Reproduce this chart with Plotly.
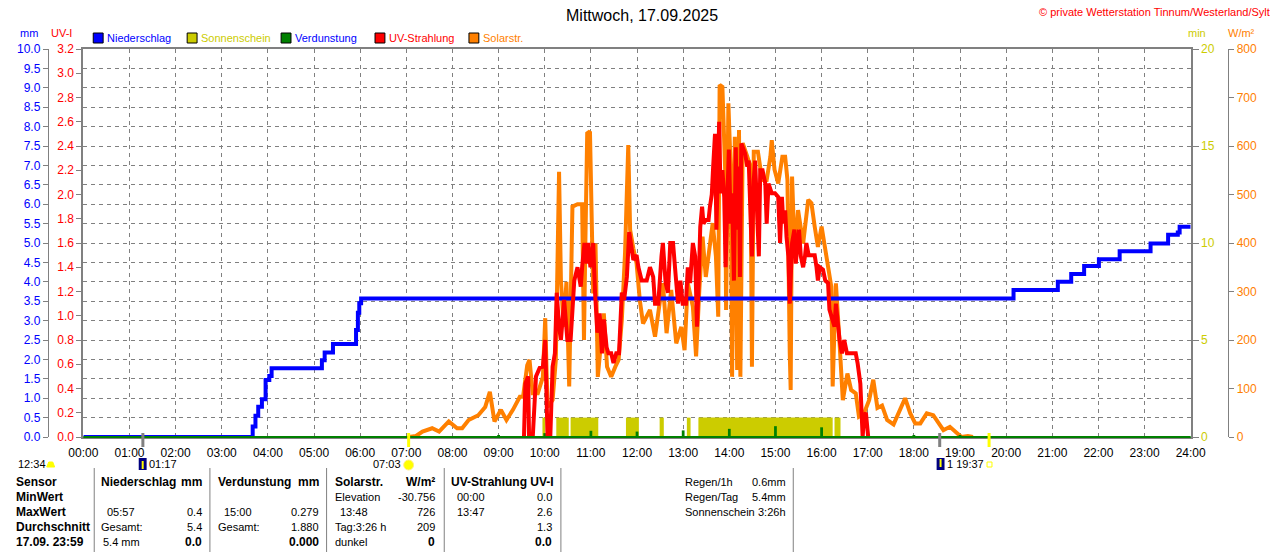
import plotly.graph_objects as go

FONT = "Liberation Sans"
BLUE = "#0000FF"
RED = "#FF0000"
ORANGE = "#FF8000"
YELLOW = "#CCCC00"
GREEN = "#008000"
GRAY = "#808080"

# x axis: hours of the day
hours = list(range(25))
hour_labels = [f"{h:02d}:00" for h in hours]

# Niederschlag, cumulative mm (step series, value holds until next time)
rain_t = [0, 3.67, 3.73, 3.79, 3.87, 3.95, 4.03, 4.08, 5.17, 5.23, 5.41, 5.91, 5.95,
          5.98, 6.02, 20.16, 21.12, 21.41, 21.69, 22.01, 22.46, 23.13, 23.51, 23.72,
          23.76, 24.0]
rain_mm = [0, 0.27, 0.55, 0.78, 0.97, 1.47, 1.57, 1.77, 1.98, 2.18, 2.40, 2.76, 3.20,
           3.45, 3.57, 3.79, 4.00, 4.20, 4.41, 4.58, 4.79, 4.99, 5.21, 5.27, 5.42, 5.42]

# Sonnenschein intervals (hours) and minutes of sun per minute
sun_start = [9.95, 10.25, 10.56, 11.76, 12.49, 13.08, 13.33, 16.28]
sun_end = [10.01, 10.52, 11.16, 12.04, 12.58, 13.16, 16.24, 16.41]
sun_min = [1, 1, 1, 1, 1, 1, 1, 1]

# Verdunstung per hour (mm)
evap_t = [1, 2, 3, 4, 5, 6, 7, 8, 9, 10, 11, 12, 13, 14, 15, 16, 17, 18, 19, 20, 21, 22, 23]
evap_mm = [0.02, 0.01, 0.02, 0.02, 0.01, 0.02, 0.01, 0.02, 0.04, 0.10, 0.16, 0.14, 0.17,
           0.21, 0.279, 0.25, 0.14, 0.05, 0.03, 0.02, 0.02, 0.02, 0.01]

# Solarstrahlung W/m2
sol_t = [7.05, 7.21, 7.35, 7.56, 7.71, 7.92, 8.10, 8.21, 8.35, 8.56, 8.71, 8.81, 8.91,
         9.05, 9.17, 9.31, 9.46, 9.53, 9.62, 9.67, 9.74, 9.85, 9.96, 10.01, 10.06, 10.17,
         10.24, 10.31, 10.35, 10.41, 10.47, 10.53, 10.60, 10.71, 10.81, 10.85, 10.88,
         10.92, 10.98, 11.01, 11.05, 11.10, 11.15, 11.21, 11.28, 11.35, 11.44, 11.53,
         11.60, 11.67, 11.74, 11.81, 11.85, 11.92, 11.99, 12.06, 12.13, 12.28, 12.39,
         12.49, 12.56, 12.64, 12.74, 12.85, 12.96, 13.03, 13.10, 13.21, 13.28, 13.35,
         13.42, 13.49, 13.56, 13.64, 13.71, 13.76, 13.79, 13.85, 13.91, 13.93, 13.98,
         14.03, 14.06, 14.12, 14.17, 14.21, 14.24, 14.29, 14.39, 14.46, 14.49, 14.53,
         14.62, 14.71, 14.81, 14.89, 14.92, 14.98, 15.06, 15.15, 15.21, 15.26, 15.31,
         15.33, 15.36, 15.42, 15.49, 15.60, 15.71, 15.78, 15.85, 15.92, 16.00, 16.06,
         16.14, 16.21, 16.24, 16.31, 16.39, 16.46, 16.56, 16.64, 16.74, 16.81, 16.92,
         17.03, 17.12, 17.21, 17.31, 17.42, 17.56, 17.71, 17.81, 17.92, 18.03, 18.14,
         18.28, 18.42, 18.53, 18.64, 18.78, 18.92, 19.03, 19.17, 19.28]
sol_w = [0, 2, 11, 18, 11, 32, 18, 18, 35, 45, 62, 93, 32,
         56, 35, 56, 83, 83, 148, 159, 90, 90, 124, 245, 62, 76,
         159, 547, 324, 227, 320, 104, 475, 480, 480, 200, 399,
         626, 630, 489, 296, 399, 124, 186, 255, 145, 124, 145,
         159, 241, 379, 602, 427, 389, 358, 282, 234, 262, 207,
         276, 317, 214, 303, 193, 227, 179, 317, 269, 166, 303,
         413, 330, 386, 441, 372, 248, 726, 722, 551, 262, 688,
         551, 124, 619, 138, 633, 124, 606, 578, 557, 145, 588,
         588, 530, 530, 578, 612, 551, 523, 578, 578, 530, 173,
         97, 537, 372, 468, 399, 489, 482, 434, 392, 434, 399,
         344, 310, 104, 317, 193, 76, 131, 97, 90, 42, 49,
         76, 118, 60, 65, 35, 26, 56, 80, 49, 28, 28,
         49, 45, 28, 14, 21, 8, 0, 2, 0]

# UV-Strahlung UV-I
uv_t = [9.55, 9.58, 9.64, 9.66, 9.74, 9.81, 9.89, 9.96, 10.01, 10.06, 10.12, 10.17,
        10.22, 10.26, 10.31, 10.35, 10.42, 10.49, 10.56, 10.60, 10.64, 10.71, 10.78,
        10.81, 10.86, 10.91, 10.94, 10.99, 11.05, 11.09, 11.14, 11.19, 11.24, 11.28,
        11.34, 11.38, 11.44, 11.49, 11.55, 11.61, 11.64, 11.67, 11.72, 11.78, 11.83,
        11.89, 11.92, 11.99, 12.03, 12.10, 12.21, 12.28, 12.35, 12.39, 12.46, 12.53,
        12.56, 12.62, 12.67, 12.72, 12.78, 12.84, 12.89, 12.94, 12.99, 13.06, 13.10,
        13.15, 13.21, 13.26, 13.30, 13.34, 13.37, 13.41, 13.44, 13.49, 13.55, 13.58,
        13.62, 13.65, 13.69, 13.72, 13.75, 13.78, 13.81, 13.85, 13.89, 13.92, 13.96,
        13.99, 14.03, 14.06, 14.10, 14.14, 14.17, 14.21, 14.23, 14.26, 14.34, 14.39,
        14.42, 14.46, 14.49, 14.53, 14.56, 14.60, 14.64, 14.67, 14.72, 14.78, 14.81,
        14.85, 14.89, 14.92, 14.99, 15.06, 15.10, 15.14, 15.17, 15.21, 15.24, 15.28,
        15.31, 15.34, 15.36, 15.41, 15.44, 15.48, 15.51, 15.55, 15.60, 15.64, 15.67,
        15.72, 15.85, 15.89, 15.92, 15.96, 16.03, 16.08, 16.14, 16.17, 16.21, 16.28,
        16.31, 16.35, 16.39, 16.44, 16.49, 16.55, 16.74, 16.78, 16.84, 16.89, 16.92,
        16.96, 17.01]
uv_i = [0, 0.44, 0.50, 0, 0, 0.50, 0.57, 0.58, 0.80, 0, 0, 0.58,
        0.69, 1.19, 0.91, 0.80, 1.13, 0.80, 0.80, 1.07, 1.29, 1.40, 1.24,
        1.40, 1.60, 1.43, 1.60, 1.40, 1.60, 1.19, 0.86, 1.02, 0.69, 0.97,
        0.74, 0.69, 0.69, 0.61, 0.69, 0.69, 0.97, 1.19, 1.13, 1.32, 1.69,
        1.54, 1.46, 1.50, 1.40, 1.29, 1.29, 1.40, 1.32, 1.10, 1.10, 1.49,
        1.60, 1.27, 1.19, 1.60, 1.60, 1.32, 1.10, 1.29, 1.10, 1.10, 1.40,
        1.27, 1.60, 1.49, 0.91, 1.32, 1.73, 1.90, 1.76, 1.79, 1.79, 1.90,
        2.00, 2.23, 2.50, 1.71, 2.23, 2.60, 2.01, 2.20, 1.98, 1.40, 2.01,
        2.37, 1.76, 2.01, 1.29, 2.39, 1.71, 2.23, 1.32, 2.42, 2.34, 2.23,
        2.28, 1.93, 1.49, 2.12, 2.28, 1.87, 1.49, 2.20, 2.20, 2.09, 1.76,
        2.09, 2.04, 2.01, 2.01, 1.98, 1.60, 1.98, 1.76, 1.87, 1.65, 1.49,
        1.10, 1.38, 1.60, 1.71, 1.43, 1.60, 1.71, 1.49, 1.40, 1.49, 1.60,
        1.50, 1.50, 1.40, 1.29, 1.40, 1.38, 1.29, 1.27, 1.05, 0.99, 0.91,
        1.10, 0.94, 0.80, 0.69, 0.80, 0.69, 0.69, 0.61, 0.44, 0, 0.17,
        0.20, 0]

# sun / moon events on the time axis
evt_t = [1.29, 7.05, 18.56, 19.63]
evt_color = [GRAY, "#FFFF00", GRAY, "#FFFF00"]

# page geometry (pixels)
W, H = 1280, 552
ML, MR, MT, MB = 20, 20, 49, 115


def px(x):
    return (x - ML) / (W - ML - MR)


def py(y):
    return (H - MB - y) / (H - MT - MB)


fig = go.Figure()

fig.add_trace(go.Bar(
    x=[(a + b) / 2 for a, b in zip(sun_start, sun_end)],
    y=sun_min,
    width=[b - a for a, b in zip(sun_start, sun_end)],
    marker=dict(color=YELLOW, line=dict(width=0)),
    yaxis="y", name="Sonnenschein",
))
fig.add_trace(go.Scatter(
    x=sol_t, y=sol_w, mode="lines", line=dict(color=ORANGE, width=4),
    yaxis="y2", name="Solarstr.",
))
fig.add_trace(go.Bar(
    x=evap_t, y=evap_mm, width=0.06, marker=dict(color=GREEN, line=dict(width=0)),
    yaxis="y3", name="Verdunstung",
))
fig.add_trace(go.Scatter(
    x=rain_t, y=rain_mm, mode="lines", line=dict(color=BLUE, width=4, shape="hv"),
    yaxis="y3", name="Niederschlag",
))
fig.add_trace(go.Scatter(
    x=uv_t, y=uv_i, mode="lines", line=dict(color=RED, width=4),
    yaxis="y4", name="UV-Strahlung",
))

fig.update_layout(
    width=W, height=H,
    margin=dict(l=ML, r=MR, t=MT, b=MB, pad=0),
    paper_bgcolor="white", plot_bgcolor="white",
    showlegend=False, barmode="overlay",
    font=dict(family=FONT, size=11, color="black"),
    xaxis=dict(
        domain=[px(77), px(1197)], range=[0, 24],
        tickvals=hours, ticktext=hour_labels, ticks="", ticklabelstandoff=4,
        tickfont=dict(family=FONT, size=12, color="black"),
        showgrid=True, gridcolor=GRAY, gridwidth=1, griddash="4px,4px",
        showline=True, linecolor=GRAY, linewidth=2, mirror=True, zeroline=False,
    ),
    yaxis=dict(
        range=[0, 20], side="right", anchor="x",
        tickvals=[0, 5, 10, 15, 20], ticks="outside", ticklen=6, tickcolor=GRAY,
        tickfont=dict(family=FONT, size=12, color=YELLOW),
        showgrid=False, zeroline=False, showline=True, linecolor=GRAY, linewidth=2,
    ),
    yaxis2=dict(
        range=[0, 800], overlaying="y", side="right", anchor="free", position=px(1235),
        dtick=100, ticks="outside", ticklen=5, tickcolor=GRAY,
        tickfont=dict(family=FONT, size=12, color=ORANGE),
        showgrid=False, zeroline=False, showline=True, linecolor=GRAY, linewidth=1,
    ),
    yaxis3=dict(
        range=[0, 10], overlaying="y", side="left", anchor="free", position=px(41),
        dtick=0.5, tickformat=".1f", ticks="outside", ticklen=5, tickcolor=GRAY,
        tickfont=dict(family=FONT, size=12, color=BLUE),
        showgrid=True, gridcolor=GRAY, gridwidth=1, griddash="4px,4px",
        zeroline=False, showline=True, linecolor=GRAY, linewidth=1,
    ),
    yaxis4=dict(
        range=[0, 3.2], overlaying="y", side="left", anchor="x",
        dtick=0.2, tickformat=".1f", ticks="outside", ticklen=5, tickcolor=GRAY,
        tickfont=dict(family=FONT, size=12, color=RED),
        showgrid=False, zeroline=False, showline=True, linecolor=GRAY, linewidth=2,
    ),
)

ann = []
shapes = []


def txt(x, y, s, color="black", size=11, anchor="left", bold=False):
    ann.append(dict(
        x=px(x), y=py(y), xref="paper", yref="paper",
        text=f"<b>{s}</b>" if bold else s, showarrow=False,
        xanchor=anchor, yanchor="middle",
        font=dict(family=FONT, size=size, color=color),
    ))


# title and copyright
txt(642, 15, "Mittwoch, 17.09.2025", size=16, anchor="center")
txt(1279, 12, "© private Wetterstation Tinnum/Westerland/Sylt", color=RED, size=11, anchor="right")

# axis unit labels
txt(22, 33, "mm", color=BLUE, anchor="center")
txt(55, 33, "UV-I", color=RED, anchor="center")
txt(1203, 33, "min", color=YELLOW, anchor="center")
txt(1248, 33, "W/m²", color=ORANGE, anchor="center")

# legend
legend_items = [("Niederschlag", BLUE, BLUE), ("Sonnenschein", YELLOW, YELLOW),
                ("Verdunstung", GREEN, BLUE), ("UV-Strahlung", RED, RED),
                ("Solarstr.", ORANGE, ORANGE)]
for i, (name, box, col) in enumerate(legend_items):
    x0 = 87 + 95 * i
    shapes.append(dict(type="rect", xref="paper", yref="paper",
                       x0=px(x0), x1=px(x0 + 10), y0=py(43), y1=py(33),
                       fillcolor=box, line=dict(color="black", width=1)))
    txt(x0 + 12, 38, name, color=col, size=11)

# green Verdunstung baseline over the bottom axis line
shapes.append(dict(type="line", xref="paper", yref="paper", x0=px(77), x1=px(1197),
                   y0=py(437), y1=py(437), line=dict(color=GREEN, width=2)))

# event ticks on the time axis
for t, c in zip(evt_t, evt_color):
    shapes.append(dict(type="line", xref="x", yref="paper", x0=t, x1=t,
                       y0=py(447), y1=py(433), line=dict(color=c, width=3)))

# event labels below the time axis
txt(9, 464, "12:34")
shapes.append(dict(type="path", xref="paper", yref="paper",
                   path=f"M {px(40)},{py(467)} L {px(42)},{py(462)} L {px(46)},{py(462)} L {px(48)},{py(467)} Z",
                   fillcolor="#FFFF00", line=dict(color="#FFFF00", width=1)))
shapes.append(dict(type="rect", xref="paper", yref="paper", x0=px(133), x1=px(141),
                   y0=py(470), y1=py(458), fillcolor="#000080", line=dict(width=0)))
shapes.append(dict(type="line", xref="paper", yref="paper", x0=px(137), x1=px(137),
                   y0=py(469), y1=py(461), line=dict(color="#FFFF00", width=2)))
txt(141, 464, "01:17")
txt(400, 464, "07:03", anchor="right")
shapes.append(dict(type="circle", xref="paper", yref="paper", x0=px(401), x1=px(411),
                   y0=py(470), y1=py(460), fillcolor="#FFFF00", line=dict(color="#FFF080", width=1)))
shapes.append(dict(type="rect", xref="paper", yref="paper", x0=px(940), x1=px(948),
                   y0=py(470), y1=py(458), fillcolor="#000080", line=dict(width=0)))
shapes.append(dict(type="line", xref="paper", yref="paper", x0=px(944), x1=px(944),
                   y0=py(467), y1=py(459), line=dict(color="#FFFF00", width=2)))
txt(948, 464, "1 19:37")
shapes.append(dict(type="rect", xref="paper", yref="paper", x0=px(991), x1=px(996),
                   y0=py(467), y1=py(462), fillcolor="white", line=dict(color="#FFFF00", width=1)))

# table
for xl in [88, 205, 323, 442, 560, 795]:
    shapes.append(dict(type="line", xref="paper", yref="paper", x0=px(xl), x1=px(xl),
                       y0=py(468), y1=py(552), line=dict(color=GRAY, width=1)))

rows = [482, 497, 512, 527, 542]
for y, s in zip(rows, ["Sensor", "MinWert", "MaxWert", "Durchschnitt", "17.09. 23:59"]):
    txt(7, y, s, size=12, bold=True)

txt(93, rows[0], "Niederschlag", size=12, bold=True)
txt(199, rows[0], "mm", size=12, bold=True, anchor="right")
txt(99, rows[2], "05:57")
txt(199, rows[2], "0.4", anchor="right")
txt(93, rows[3], "Gesamt:")
txt(199, rows[3], "5.4", anchor="right")
txt(95, rows[4], "5.4 mm")
txt(199, rows[4], "0.0", size=12, bold=True, anchor="right")

txt(211, rows[0], "Verdunstung", size=12, bold=True)
txt(317, rows[0], "mm", size=12, bold=True, anchor="right")
txt(217, rows[2], "15:00")
txt(317, rows[2], "0.279", anchor="right")
txt(211, rows[3], "Gesamt:")
txt(317, rows[3], "1.880", anchor="right")
txt(317, rows[4], "0.000", size=12, bold=True, anchor="right")

txt(329, rows[0], "Solarstr.", size=12, bold=True)
txt(435, rows[0], "W/m²", size=12, bold=True, anchor="right")
txt(329, rows[1], "Elevation")
txt(435, rows[1], "-30.756", anchor="right")
txt(335, rows[2], "13:48")
txt(435, rows[2], "726", anchor="right")
txt(329, rows[3], "Tag:3:26 h")
txt(435, rows[3], "209", anchor="right")
txt(329, rows[4], "dunkel")
txt(435, rows[4], "0", size=12, bold=True, anchor="right")

txt(447, rows[0], "UV-Strahlung UV-I", size=12, bold=True)
txt(453, rows[1], "00:00")
txt(553, rows[1], "0.0", anchor="right")
txt(453, rows[2], "13:47")
txt(553, rows[2], "2.6", anchor="right")
txt(553, rows[3], "1.3", anchor="right")
txt(553, rows[4], "0.0", size=12, bold=True, anchor="right")

for y, a, b in zip(rows[:3], ["Regen/1h", "Regen/Tag", "Sonnenschein"], ["0.6mm", "5.4mm", "3:26h"]):
    txt(683, y, a)
    txt(790, y, b, anchor="right")

fig.update_layout(annotations=ann, shapes=shapes)

# the page body has a default 8px margin; remove it so the figure sits at 0,0
fig.write_html("out.html", config={"displayModeBar": False},
               post_script="document.body.style.margin='0px';")
